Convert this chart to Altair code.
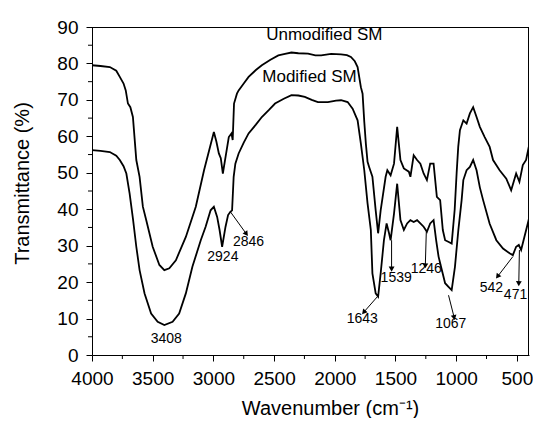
import math
import altair as alt
import pandas as pd

# ---- data ----
wn_unmod = [4000, 3930, 3853, 3800, 3771, 3740, 3722, 3704, 3684, 3663, 3635, 3608, 3581, 3553,
            3500, 3445, 3404, 3363, 3309, 3227, 3145, 3077, 2996, 2975, 2955, 2939, 2922, 2895,
            2873, 2851, 2841, 2830, 2806, 2792, 2750, 2710, 2650, 2601, 2530, 2465, 2410, 2357,
            2300, 2220, 2160, 2112, 2030, 1948, 1900, 1867, 1835, 1812, 1785, 1771, 1757, 1744,
            1730, 1717, 1690, 1663, 1643, 1622, 1581, 1567, 1540, 1512, 1486, 1459, 1431, 1390,
            1377, 1350, 1322, 1295, 1268, 1241, 1214, 1186, 1159, 1132, 1110, 1091, 1061, 1037,
            1012, 996, 983, 969, 941, 914, 887, 860, 832, 805, 765, 724, 696, 642, 587, 547, 506,
            479, 451, 424, 402]
t_unmod = [79.5, 79.3, 79.0, 78.0, 76.3, 74.5, 72.6, 69.0, 68.0, 65.3, 53.5, 48.9, 40.7, 37.0,
           29.7, 24.7, 23.3, 23.8, 26.0, 32.4, 40.7, 50.7, 61.2, 58.5, 55.3, 54.0, 49.8, 55.3,
           59.8, 60.8, 59.0, 69.0, 71.7, 72.6, 74.5, 76.3, 78.2, 79.5, 81.0, 82.2, 82.6, 83.0,
           82.8, 82.7, 82.2, 82.2, 82.6, 82.5, 82.3, 81.8, 80.6, 79.0, 73.5, 71.7, 64.0, 58.0,
           53.0, 51.6, 48.9, 39.7, 33.4, 39.7, 48.9, 50.7, 49.3, 52.5, 62.6, 53.5, 51.2, 50.3,
           48.9, 54.8, 53.5, 52.5, 49.8, 48.0, 52.5, 52.5, 43.4, 42.5, 34.3, 31.5, 31.0, 30.6,
           40.0, 50.0, 57.1, 61.7, 64.4, 63.5, 66.3, 68.0, 65.3, 62.6, 59.8, 57.1, 53.5, 50.7,
           48.4, 45.2, 49.8, 47.5, 52.1, 53.5, 57.1]

wn_mod = [4000, 3930, 3853, 3800, 3771, 3740, 3717, 3690, 3663, 3635, 3608, 3567, 3513, 3459,
          3404, 3336, 3282, 3227, 3173, 3104, 3064, 3023, 2996, 2969, 2949, 2928, 2900, 2879,
          2860, 2846, 2833, 2819, 2792, 2750, 2710, 2650, 2601, 2540, 2492, 2420, 2357, 2300,
          2247, 2190, 2139, 2057, 1990, 1948, 1894, 1853, 1812, 1785, 1757, 1730, 1703, 1690,
          1663, 1643, 1622, 1595, 1573, 1553, 1540, 1512, 1486, 1459, 1431, 1404, 1377, 1350,
          1322, 1295, 1268, 1241, 1214, 1186, 1165, 1145, 1118, 1091, 1063, 1037, 1010, 982,
          955, 941, 914, 887, 860, 832, 805, 778, 724, 669, 614, 560, 533, 506, 484, 465, 438,
          410, 397]
t_mod = [56.2, 56.0, 55.7, 54.7, 53.5, 51.8, 49.8, 44.3, 37.5, 29.7, 23.3, 16.9, 11.4, 9.1,
         8.2, 9.1, 11.4, 16.9, 24.2, 31.5, 35.2, 39.7, 40.7, 37.9, 34.3, 29.7, 35.2, 38.4,
         39.3, 39.7, 48.9, 52.5, 55.3, 58.3, 60.8, 63.2, 65.3, 67.3, 69.0, 70.3, 71.3, 71.2,
         70.8, 70.0, 69.4, 69.4, 69.8, 69.9, 69.4, 67.6, 64.4, 58.0, 50.7, 41.6, 34.3, 22.4,
         16.9, 16.0, 22.4, 31.5, 36.1, 33.4, 31.5, 38.8, 47.0, 37.0, 34.3, 36.1, 37.0, 36.5,
         37.0, 36.1, 35.2, 33.8, 36.1, 37.0, 31.5, 27.0, 23.3, 19.7, 18.7, 17.8, 24.2, 34.3,
         42.5, 48.0, 50.7, 51.6, 53.5, 50.7, 46.0, 42.5, 36.0, 31.5, 29.2, 27.9, 27.4, 29.7,
         30.2, 28.8, 32.4, 36.1, 37.9]

series_names = ["Unmodified SM", "Modified SM"]
series_label_wn = [2086, 2208]
series_label_t = [87.7, 76.3]

peak_labels = ["3408", "2924", "2846", "1643", "1539", "1246", "1067", "542", "471"]
peak_label_wn = [3388, 2922, 2710, 1773, 1494, 1246, 1045, 710, 511]
peak_label_t = [4.4, 26.8, 30.9, 9.9, 21.0, 23.7, 8.4, 18.4, 16.6]

arrow_from_wn = [2860, 1649, 1532, 1246, 1063, 533, 479]
arrow_from_t = [39.3, 16.0, 31.5, 33.8, 16.4, 27.0, 28.8]
arrow_to_wn = [2732, 1757, 1532, 1254, 1018, 655, 484]
arrow_to_t = [33.4, 11.9, 23.8, 24.7, 10.5, 21.7, 19.8]

x_ticks = [4000, 3500, 3000, 2500, 2000, 1500, 1000, 500]
x_minor = [3750, 3250, 2750, 2250, 1750, 1250, 750]
y_ticks = [0, 10, 20, 30, 40, 50, 60, 70, 80, 90]
y_minor = [5, 15, 25, 35, 45, 55, 65, 75, 85]

# ---- layout ----
W, H = 437, 328
X_MIN, X_MAX = 400, 4000
Y_MIN, Y_MAX = 0, 90
FONT = "Liberation Sans"

x_scale = alt.Scale(domain=[X_MIN, X_MAX], reverse=True, nice=False, zero=False)
y_scale = alt.Scale(domain=[Y_MIN, Y_MAX], nice=False, zero=False)

spec_df = pd.concat([
    pd.DataFrame({"wn": wn_unmod, "t": t_unmod, "series": series_names[0]}),
    pd.DataFrame({"wn": wn_mod, "t": t_mod, "series": series_names[1]}),
])

x_axis = alt.Axis(values=x_ticks, format="d", title="Wavenumber (cm\u207b\u00b9)",
                  titleX=238, titleY=53, titleBaseline="middle")
y_axis = alt.Axis(values=y_ticks, format="d", title="Transmittance (%)",
                  titleX=-70, titleY=156, titleBaseline="middle")

lines = alt.Chart(spec_df).mark_line(color="black", strokeWidth=1.8, clip=True).encode(
    x=alt.X("wn:Q", scale=x_scale, axis=x_axis),
    y=alt.Y("t:Q", scale=y_scale, axis=y_axis),
    detail="series:N",
    order=alt.Order("wn:Q", sort="descending"),
)

series_df = pd.DataFrame({"wn": series_label_wn, "t": series_label_t, "label": series_names})
series_text = alt.Chart(series_df).mark_text(fontSize=17, font=FONT, color="black").encode(
    x=alt.X("wn:Q", scale=x_scale, axis=x_axis),
    y=alt.Y("t:Q", scale=y_scale, axis=y_axis), text="label:N")

peak_df = pd.DataFrame({"wn": peak_label_wn, "t": peak_label_t, "label": peak_labels})
peak_text = alt.Chart(peak_df).mark_text(fontSize=14, font=FONT, color="black").encode(
    x=alt.X("wn:Q", scale=x_scale, axis=x_axis),
    y=alt.Y("t:Q", scale=y_scale, axis=y_axis), text="label:N")

px_wn = W / (X_MAX - X_MIN)
px_t = H / (Y_MAX - Y_MIN)
angles = []
for a, b, c, d in zip(arrow_from_wn, arrow_from_t, arrow_to_wn, arrow_to_t):
    dx = -(c - a) * px_wn
    dy = -(d - b) * px_t
    angles.append((math.degrees(math.atan2(dx, -dy)) + 360) % 360)

arrow_df = pd.DataFrame({"wn": arrow_from_wn, "t": arrow_from_t,
                         "wn2": arrow_to_wn, "t2": arrow_to_t, "angle": angles})
arrow_lines = alt.Chart(arrow_df).mark_rule(color="black", strokeWidth=1).encode(
    x=alt.X("wn:Q", scale=x_scale, axis=x_axis),
    y=alt.Y("t:Q", scale=y_scale, axis=y_axis),
    x2="wn2:Q", y2="t2:Q")
arrow_heads = alt.Chart(arrow_df).mark_point(shape="triangle", filled=True, color="black",
                                             size=34, opacity=1).encode(
    x=alt.X("wn2:Q", scale=x_scale, axis=x_axis),
    y=alt.Y("t2:Q", scale=y_scale, axis=y_axis),
    angle=alt.Angle("angle:Q", scale=None))

xminor_df = pd.DataFrame({"wn": x_minor})
x_minor_ticks = alt.Chart(xminor_df).mark_rule(color="black", strokeWidth=1).encode(
    x=alt.X("wn:Q", scale=x_scale, axis=x_axis), y=alt.value(H), y2=alt.value(H + 4))
yminor_df = pd.DataFrame({"t": y_minor})
y_minor_ticks = alt.Chart(yminor_df).mark_rule(color="black", strokeWidth=1).encode(
    y=alt.Y("t:Q", scale=y_scale, axis=y_axis), x=alt.value(0), x2=alt.value(-4))

# frame (top and right edges)
frame_top = alt.Chart(pd.DataFrame({"k": [0]})).mark_rule(color="black", strokeWidth=1).encode(
    x=alt.value(0), x2=alt.value(W), y=alt.value(0.5))
frame_right = alt.Chart(pd.DataFrame({"k": [0]})).mark_rule(color="black", strokeWidth=1).encode(
    x=alt.value(W - 0.5), y=alt.value(0), y2=alt.value(H))

chart = alt.layer(lines, series_text, peak_text, arrow_lines, arrow_heads,
                  x_minor_ticks, y_minor_ticks, frame_top, frame_right).properties(
    width=W, height=H,
    background="white",
    autosize=alt.AutoSizeParams(type="none"),
    padding={"left": 84, "top": 19, "right": 4, "bottom": 63},
).configure_view(stroke=None).configure_axis(
    labelFontSize=19, titleFontSize=20, labelFont=FONT, titleFont=FONT,
    tickSize=6, labelPadding=8, grid=False, domainColor="black", tickColor="black",
    labelColor="black", titleColor="black", titleFontWeight="normal",
    labelFlush=False, labelOverlap=False, domainWidth=1, tickWidth=1,
)

chart.save("out.html", embed_options={"renderer": "svg", "actions": False})
